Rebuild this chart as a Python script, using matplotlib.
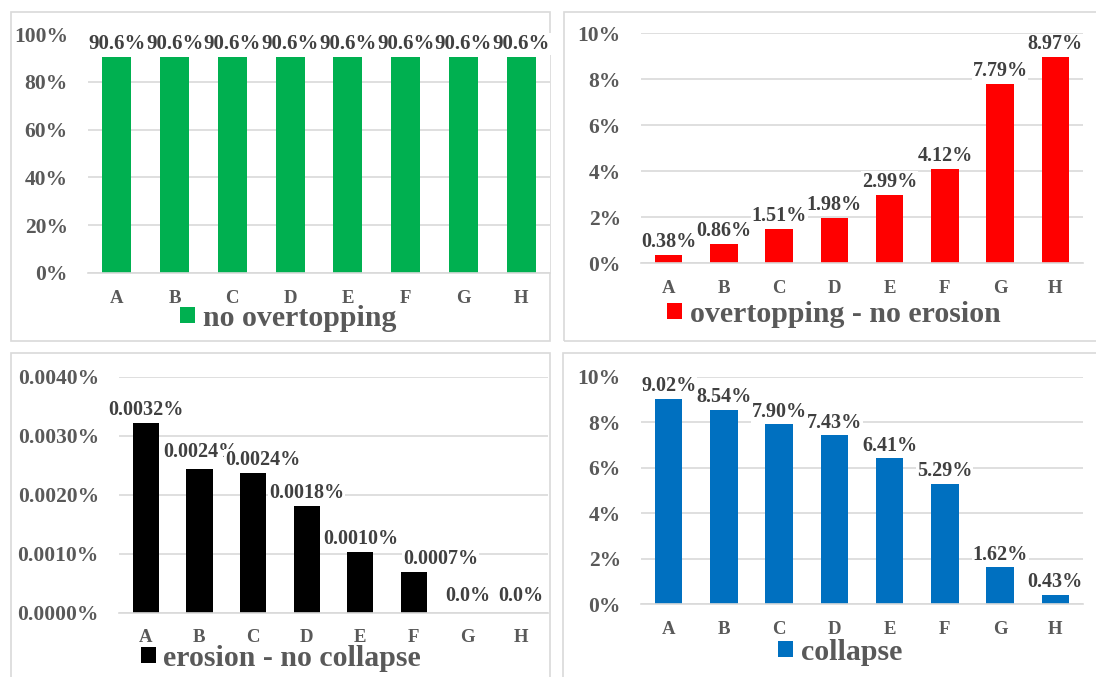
import matplotlib
matplotlib.use("Agg")
import matplotlib.pyplot as plt
from matplotlib.patches import Rectangle
from matplotlib.ticker import FuncFormatter

# ---- data (values in percent) ----
categories = ["A", "B", "C", "D", "E", "F", "G", "H"]
no_overtopping = [90.6, 90.6, 90.6, 90.6, 90.6, 90.6, 90.6, 90.6]
overtopping_no_erosion = [0.38, 0.86, 1.51, 1.98, 2.99, 4.12, 7.79, 8.97]
erosion_no_collapse = [0.00322, 0.00244, 0.00237, 0.00181, 0.00103, 0.00069, 0.0, 0.0]
collapse = [9.02, 8.54, 7.90, 7.43, 6.41, 5.29, 1.62, 0.43]

series_names = ["no overtopping", "overtopping - no erosion",
                "erosion - no collapse", "collapse"]

# ---- style ----
plt.rcParams["font.family"] = ["Liberation Serif", "DejaVu Serif"]
plt.rcParams["font.weight"] = "bold"

W, H = 1096, 677
fig = plt.figure(figsize=(W / 100, H / 100), dpi=100)
fig.patch.set_facecolor("white")

GRID = "#d9d9d9"
TICK = "#595959"
LABEL = "#404040"


def axes_px(left, top, right, bottom):
    return fig.add_axes([left / W, 1 - bottom / H, (right - left) / W, (bottom - top) / H])


def frame_px(x0, y0, x1, y1):
    fig.add_artist(Rectangle((x0 / W, 1 - y1 / H), (x1 - x0) / W, (y1 - y0) / H,
                             transform=fig.transFigure, fill=False,
                             edgecolor=GRID, linewidth=1.2, zorder=0))


def panel(ax, values, color, ymax, ystep, yfmt, lblfmt, name, legend_xy,
          width=0.5, hide_top_grid=False, nudges=None, lblsize=14.5):
    x = range(len(categories))
    bars = ax.bar(x, values, width=width, color=color, label=name, zorder=2)
    ax.set_xlim(-0.5, len(categories) - 0.5)
    ax.set_ylim(0, ymax)
    n = int(round(ymax / ystep))
    ax.set_yticks([i * ystep for i in range(n + 1)])
    ax.yaxis.set_major_formatter(FuncFormatter(lambda v, p: yfmt(v)))
    ax.set_xticks(list(x))
    ax.set_xticklabels(categories)
    for s in ("top", "right", "left"):
        ax.spines[s].set_visible(False)
    ax.spines["bottom"].set_color(GRID)
    ax.spines["bottom"].set_linewidth(1.2)
    ax.tick_params(axis="y", length=0, pad=14.5, labelsize=15.5, labelcolor=TICK)
    ax.tick_params(axis="x", length=0, pad=12, labelsize=13.5, labelcolor=TICK)
    ax.yaxis.grid(True, color=GRID, linewidth=1.2, zorder=0)
    ax.set_axisbelow(True)
    if hide_top_grid:
        ax.get_ygridlines()[-1].set_visible(False)
    for i, (b, v) in enumerate(zip(bars, values)):
        dx, dy = (0, 0) if nudges is None else nudges[i]
        ax.annotate(lblfmt(v), (b.get_x() + b.get_width() / 2, v),
                    xytext=(dx, 5.5 + dy), textcoords="offset points",
                    ha="center", va="baseline", fontsize=lblsize, color=LABEL,
                    fontweight="bold", zorder=3,
                    bbox=dict(boxstyle="square,pad=0.04", fc="white", ec="none"))
    ax.legend(loc="center", bbox_to_anchor=(legend_xy[0] / W, 1 - legend_xy[1] / H),
              bbox_transform=fig.transFigure, frameon=False, fontsize=21.5,
              handlelength=0.5, handleheight=0.45, handletextpad=0.25,
              borderpad=0, borderaxespad=0, labelcolor=TICK)


# panel frames
frame_px(10.7, 11.5, 550.5, 340.5)
frame_px(563.5, 11.5, 1120, 340.5)
frame_px(10.7, 353, 550.5, 700)
frame_px(562.5, 353, 1120, 700)

ax1 = axes_px(88, 34.1, 550, 273)
panel(ax1, no_overtopping, "#00B050", 100, 20,
      lambda v: f"{v:.0f}%", lambda v: f"{v:.1f}%", series_names[0],
      (288, 318.5), hide_top_grid=True, lblsize=15)

ax2 = axes_px(641, 33.3, 1083, 263.3)
panel(ax2, overtopping_no_erosion, "#FF0000", 10, 2,
      lambda v: f"{v:.0f}%", lambda v: f"{v:.2f}%", series_names[1],
      (834, 314.5))

ax3 = axes_px(119, 376.7, 548, 612.7)
nudges3 = [(0, 0), (1, 3), (7, 0), (0, 0), (0, 0), (19, 0), (0, 3), (0, 3)]
panel(ax3, erosion_no_collapse, "#000000", 0.004, 0.001,
      lambda v: f"{v:.4f}%", lambda v: "0.0%" if v == 0 else f"{v:.4f}%",
      series_names[2], (281, 658), width=0.49, nudges=nudges3)

ax4 = axes_px(641, 376.7, 1083, 604.3)
panel(ax4, collapse, "#0070C0", 10, 2,
      lambda v: f"{v:.0f}%", lambda v: f"{v:.2f}%", series_names[3],
      (840, 652))

fig.savefig("out.png", dpi=100, facecolor="white")
